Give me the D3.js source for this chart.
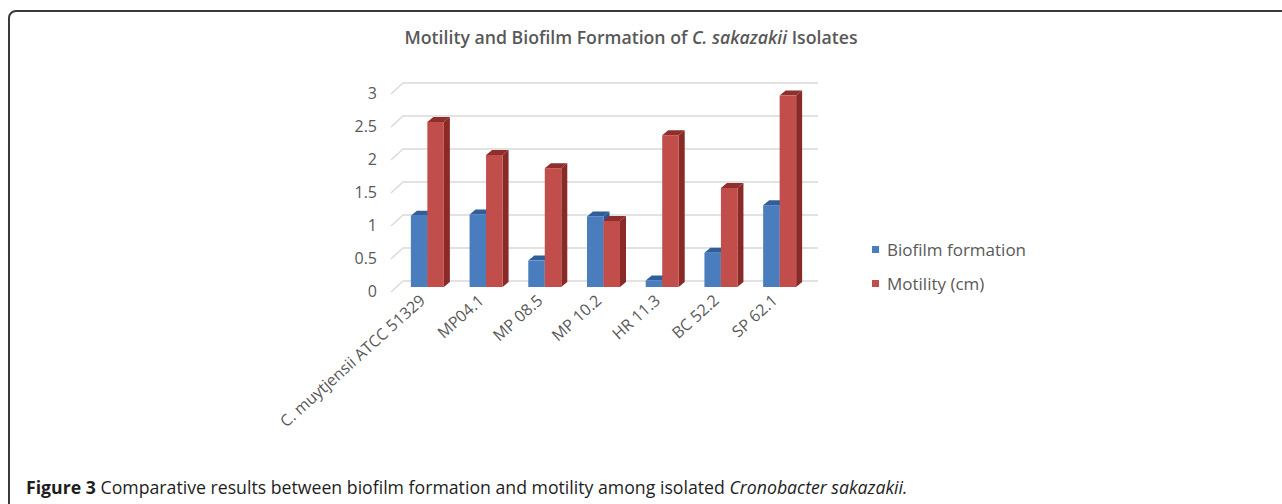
<!DOCTYPE html>
<html>
<head>
<meta charset="utf-8">
<script src="https://cdn.jsdelivr.net/npm/d3@7"></script>
<style>
  body { margin: 0; background: #fff; }
  svg text { font-family: "Open Sans", sans-serif; }
</style>
</head>
<body>
<svg id="chart" width="1282" height="504"></svg>
<script>
const categories = ["C. muytjensii ATCC 51329", "MP04.1", "MP 08.5", "MP 10.2", "HR 11.3", "BC 52.2", "SP 62.1"];
const seriesNames = ["Biofilm formation", "Motility (cm)"];
const biofilm = [1.08, 1.1, 0.4, 1.07, 0.1, 0.52, 1.24];
const motility = [2.5, 2.0, 1.8, 1.0, 2.3, 1.5, 2.9];
const yTicks = [0, 0.5, 1, 1.5, 2, 2.5, 3];

const svg = d3.select("#chart");

// figure frame (only top/left edges are in view)
svg.append("rect")
    .attr("x", 9).attr("y", 11)
    .attr("width", 1400).attr("height", 700)
    .attr("rx", 7)
    .attr("fill", "none")
    .attr("stroke", "#3a3a3a")
    .attr("stroke-width", 2);

const wallLeft = 403, wallRight = 818;
const depthX = 12, depthY = 11;   // front-to-back shift of the gridlines
const barDx = 6, barDy = 5;       // bar depth

const y = d3.scaleLinear().domain([0, 3]).range([281, 83]);     // back wall
const yBar = d3.scaleLinear().domain([0, 3]).range([287, 89]);  // bar front faces

const x = d3.scaleBand().domain(categories).range([398, 809]);
const xs = d3.scaleBand().domain(seriesNames)
    .range([x.bandwidth() / 2 - 16.5, x.bandwidth() / 2 + 16.5]);

const colors = {
    "Biofilm formation": { front: "#4a7dbd", top: "#2f5e9a", side: "#2b5690" },
    "Motility (cm)": { front: "#c24e4b", top: "#8f2f2c", side: "#8a2a27" }
};

// title
const title = svg.append("text")
    .attr("x", 631).attr("y", 44)
    .attr("text-anchor", "middle")
    .attr("font-size", 17.7)
    .attr("font-weight", 600)
    .attr("fill", "#595959");
title.append("tspan").text("Motility and Biofilm Formation of ");
title.append("tspan").attr("font-style", "italic").text("C. sakazakii");
title.append("tspan").text(" Isolates");

// gridlines
const grid = svg.append("g");
grid.selectAll("path")
    .data(yTicks)
    .enter()
    .append("path")
    .attr("d", d => `M${wallLeft - depthX},${y(d) + depthY}L${wallLeft},${y(d)}H${wallRight}`)
    .attr("fill", "none")
    .attr("stroke", "#d9d9d9")
    .attr("stroke-width", 1.3);

// y tick labels
svg.append("g").selectAll("text")
    .data(yTicks)
    .enter()
    .append("text")
    .attr("x", 377)
    .attr("y", d => y(d) + 10)
    .attr("dy", "0.35em")
    .attr("text-anchor", "end")
    .attr("font-size", 16)
    .attr("fill", "#595959")
    .text(d => d);

// bars
const barData = [];
categories.forEach((c, i) => {
    barData.push({ cat: c, series: seriesNames[0], value: biofilm[i] });
    barData.push({ cat: c, series: seriesNames[1], value: motility[i] });
});

const bars = svg.append("g").selectAll("g")
    .data(barData)
    .enter()
    .append("g");

bars.each(function (d) {
    const g = d3.select(this);
    const x0 = x(d.cat) + xs(d.series);
    const x1 = x0 + xs.bandwidth();
    const yt = yBar(d.value), yb = yBar(0);
    const col = colors[d.series];
    g.append("path")
        .attr("d", `M${x1},${yt}L${x1 + barDx},${yt - barDy}L${x1 + barDx},${yb - barDy}L${x1},${yb}Z`)
        .attr("fill", col.side);
    g.append("path")
        .attr("d", `M${x0},${yt}L${x0 + barDx},${yt - barDy}L${x1 + barDx},${yt - barDy}L${x1},${yt}Z`)
        .attr("fill", col.top);
    g.append("rect")
        .attr("x", x0).attr("y", yt)
        .attr("width", x1 - x0).attr("height", yb - yt)
        .attr("fill", col.front);
});

// x labels
svg.append("g").selectAll("text")
    .data(categories)
    .enter()
    .append("text")
    .attr("transform", d => `translate(${x(d) + x.bandwidth() / 2 - 1},${302}) rotate(-42)`)
    .attr("text-anchor", "end")
    .attr("font-size", 16)
    .attr("fill", "#595959")
    .text(d => d);

// legend
const legend = svg.append("g").selectAll("g")
    .data(seriesNames)
    .enter()
    .append("g")
    .attr("transform", (d, i) => `translate(872,${246 + i * 34})`);
legend.append("rect")
    .attr("width", 7).attr("height", 7)
    .attr("fill", d => colors[d].front);
legend.append("text")
    .attr("x", 15).attr("y", 4)
    .attr("dy", "0.35em")
    .attr("font-size", 17)
    .attr("fill", "#595959")
    .text(d => d);

// caption
const cap = svg.append("text")
    .attr("x", 26).attr("y", 494)
    .attr("font-size", 17.7)
    .attr("fill", "#1e1e1e");
cap.append("tspan").attr("font-weight", "bold").text("Figure 3");
cap.append("tspan").text(" Comparative results between biofilm formation and motility among isolated ");
cap.append("tspan").attr("font-style", "italic").text("Cronobacter sakazakii.");
</script>
</body>
</html>
